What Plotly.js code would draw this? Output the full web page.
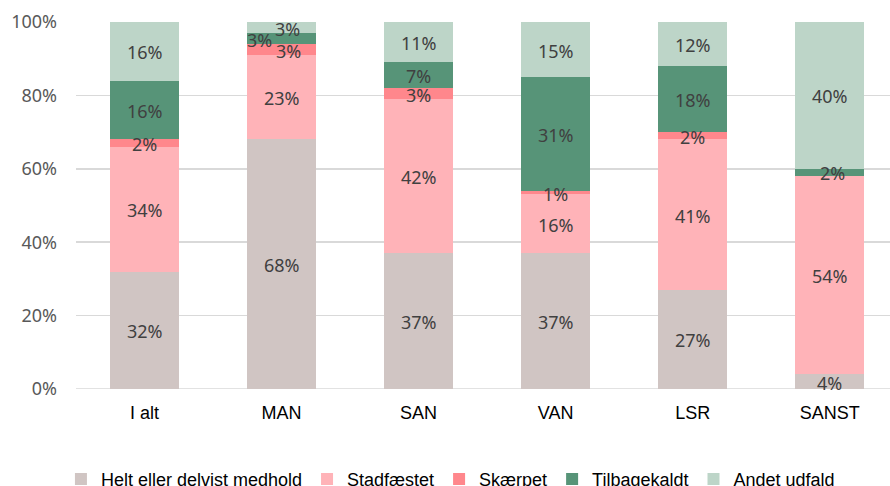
<!DOCTYPE html>
<html>
<head>
<meta charset="utf-8">
<script src="https://cdn.plot.ly/plotly-3.0.1.min.js"></script>
<style>html,body{margin:0;padding:0;background:#fff;}#chart{width:890px;height:486px;}</style>
</head>
<body>
<div id="chart"></div>
<script>
const categories = ["I alt", "MAN", "SAN", "VAN", "LSR", "SANST"];
const seriesNames = ["Helt eller delvist medhold", "Stadfæstet", "Skærpet", "Tilbagekaldt", "Andet udfald"];
const heltMedhold  = [32, 68, 37, 37, 27, 4];
const stadfaestet  = [34, 23, 42, 16, 41, 54];
const skaerpet     = [2, 3, 3, 1, 2, 0];
const tilbagekaldt = [16, 3, 7, 31, 18, 2];
const andetUdfald  = [16, 3, 11, 15, 12, 40];
const yTicks = [0, 20, 40, 60, 80, 100];

const series = [heltMedhold, stadfaestet, skaerpet, tilbagekaldt, andetUdfald];
const colors = ["#D0C5C3", "#FFB3B8", "#FF878C", "#579478", "#BDD5C8"];

const traces = series.map((vals, i) => ({
  type: "bar",
  name: seriesNames[i],
  x: categories,
  y: vals,
  marker: {color: colors[i], line: {width: 0}},
  hoverinfo: "skip"
}));

// label nudges for crowded small segments (style only): key "series,category"
const xShift = {"2,1": 7, "3,1": -22, "4,1": 6, "3,5": 3};

const annotations = [];
categories.forEach((cat, c) => {
  let base = 0;
  series.forEach((vals, s) => {
    const v = vals[c];
    if (v > 0) {
      annotations.push({
        x: cat, y: base + v / 2, xref: "x", yref: "y",
        text: v + "%", showarrow: false,
        xshift: xShift[s + "," + c] || 0,
        yshift: -1,
        font: {family: "Noto Sans, Open Sans, sans-serif", size: 18, color: "#404040"}
      });
    }
    base += v;
  });
});

const layout = {
  width: 890, height: 486,
  margin: {l: 76, r: 0, t: 22, b: 96.5, autoexpand: false},
  paper_bgcolor: "#fff", plot_bgcolor: "#fff",
  barmode: "stack",
  bargap: 0.496,
  showlegend: true,
  legend: {
    orientation: "h", x: 0.46, xanchor: "center", y: -0.246, yanchor: "middle",
    font: {family: "Liberation Sans, Arial, sans-serif", size: 18, color: "#000"},
    traceorder: "normal"
  },
  xaxis: {
    type: "category",
    range: [-0.5, 5.44],
    showgrid: false, zeroline: false, showline: false, ticks: "",
    tickfont: {family: "Liberation Sans, Arial, sans-serif", size: 18, color: "#000"},
    ticklabelstandoff: 11,
    fixedrange: true
  },
  yaxis: {
    range: [0, 100],
    tickvals: yTicks,
    ticktext: yTicks.map(v => v + "%"),
    showgrid: true, gridcolor: "#D9D9D9", gridwidth: 1.5,
    zeroline: false, showline: false, ticks: "",
    tickfont: {family: "Noto Sans, Open Sans, sans-serif", size: 18, color: "#595959"},
    ticklabelstandoff: 18,
    fixedrange: true
  },
  shapes: [{type: "line", xref: "paper", yref: "y", x0: 0, x1: 1, y0: 0, y1: 0,
            line: {color: "#D9D9D9", width: 1.5}, layer: "below"}],
  annotations: annotations
};

Plotly.newPlot("chart", traces, layout, {displayModeBar: false, staticPlot: true});
</script>
</body>
</html>
